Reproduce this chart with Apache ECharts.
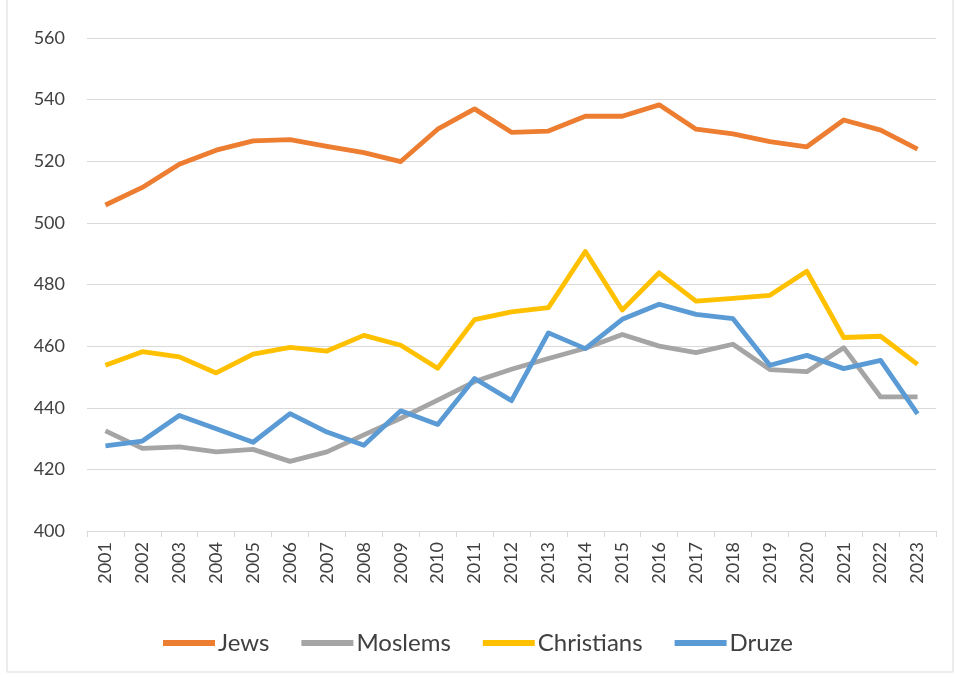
<!DOCTYPE html>
<html><head><meta charset="utf-8">
<script src="https://cdn.jsdelivr.net/npm/echarts@6/dist/echarts.min.js"></script>
<style>html,body{margin:0;padding:0;background:#fff}#c{width:956px;height:677px}</style>
</head><body><div id="c"></div>
<script>
const years = ['2001','2002','2003','2004','2005','2006','2007','2008','2009','2010','2011','2012','2013','2014','2015','2016','2017','2018','2019','2020','2021','2022','2023'];
const jews =       [505.8,511.5,519.0,523.6,526.6,527.0,524.8,522.8,519.9,530.4,537.0,529.4,529.8,534.6,534.6,538.3,530.4,528.9,526.4,524.7,533.4,530.1,523.9];
const moslems =    [432.5,426.8,427.3,425.7,426.5,422.6,425.7,431.2,436.6,442.5,448.5,452.5,456.0,459.3,463.8,460.0,457.9,460.6,452.4,451.7,459.5,443.5,443.5];
const christians = [453.8,458.2,456.5,451.3,457.4,459.6,458.4,463.5,460.3,452.8,468.6,471.1,472.5,490.7,471.7,483.8,474.6,475.5,476.5,484.3,462.8,463.2,454.1];
const druze =      [427.6,429.2,437.5,433.2,428.8,438.1,432.1,427.8,439.0,434.6,449.5,442.3,464.3,459.2,468.7,473.6,470.3,468.9,453.8,457.0,452.7,455.4,438.0];
const yTicks = [400,420,440,460,480,500,520,540,560];

const names = ['Jews','Moslems','Christians','Druze'];
const colors = ['#ED7D31','#A5A5A5','#FFC000','#5B9BD5'];
const datas = [jews, moslems, christians, druze];

const chart = echarts.init(document.getElementById('c'), null, {renderer:'canvas'});
chart.setOption({
  animation:false,
  backgroundColor:'#fff',
  textStyle:{fontFamily:'Lato, "Open Sans", sans-serif'},
  graphic:[{type:'rect',shape:{x:7,y:-2,width:946,height:674},style:{fill:'none',stroke:'#d9d9d9',lineWidth:1},silent:true}],
  grid:{left:87,right:20,top:38,bottom:146,containLabel:false},
  legend:{
    data:names, top:626, left:'center', itemWidth:52, itemHeight:6, itemGap:32,
    icon:'rect',
    textStyle:{fontSize:24,color:'#404040',fontFamily:'Lato, "Open Sans", sans-serif',padding:[0,0,0,-2]}
  },
  xAxis:{
    type:'category', data:years, boundaryGap:true,
    axisLine:{lineStyle:{color:'#d9d9d9',width:1}},
    axisTick:{show:true,length:6,lineStyle:{color:'#d9d9d9'}},
    axisLabel:{rotate:90,fontSize:18,color:'#404040',margin:11,fontFamily:'Lato, "Open Sans", sans-serif'}
  },
  yAxis:{
    type:'value', min:400, max:560, interval:20,
    axisLine:{show:false}, axisTick:{show:false},
    splitLine:{lineStyle:{color:'#d9d9d9',width:1}},
    axisLabel:{fontSize:18,color:'#404040',margin:22,fontFamily:'Lato, "Open Sans", sans-serif',
      formatter:v=>yTicks.includes(v)?String(v):''}
  },
  series: names.map((n,i)=>({
    name:n, type:'line', data:datas[i], symbol:'none',
    lineStyle:{width:4.8,color:colors[i],join:'round'}, itemStyle:{color:colors[i]}
  }))
});
</script></body></html>
